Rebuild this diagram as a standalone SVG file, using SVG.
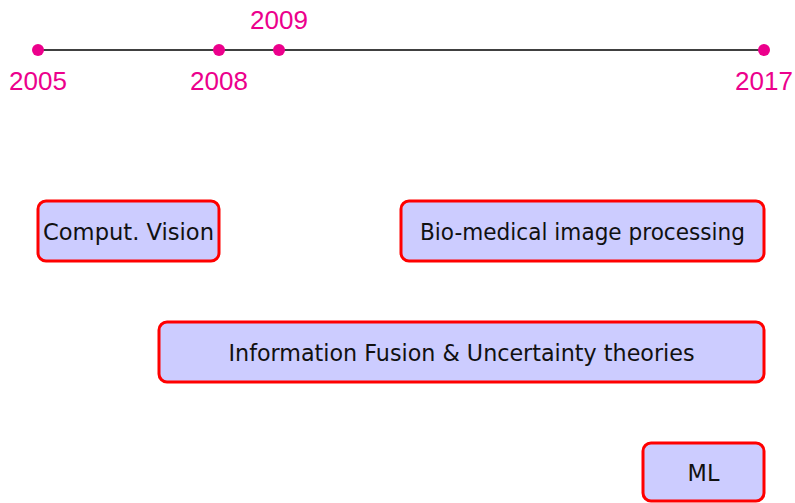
<svg xmlns="http://www.w3.org/2000/svg" width="795" height="503" viewBox="0 0 795 503">
<style>
.yr{font-family:"Liberation Sans",Arial,sans-serif;font-size:26px;fill:#ec008c;text-anchor:middle}
.dot{fill:#ec008c}
.box rect{fill:#ccccff;stroke:#ff0000;stroke-width:3}
.box text{font-family:"DejaVu Sans",sans-serif;font-size:22.4px;fill:#111;text-anchor:middle}
</style>
<rect width="795" height="503" fill="#ffffff"/>
<g id="connectors">
<line x1="38" y1="50" x2="764" y2="50" stroke="#000" stroke-width="1.4"/>
</g>
<g id="y2005"><circle class="dot" cx="38" cy="50" r="6"/><text class="yr" x="38" y="90">2005</text></g>
<g id="y2008"><circle class="dot" cx="219" cy="50" r="6"/><text class="yr" x="219" y="90">2008</text></g>
<g id="y2009"><circle class="dot" cx="279" cy="50" r="6"/><text class="yr" x="279" y="29">2009</text></g>
<g id="y2017"><circle class="dot" cx="764" cy="50" r="6"/><text class="yr" x="764" y="90">2017</text></g>
<g id="cv" class="box"><rect x="38" y="201" width="181" height="60" rx="8"/><text x="128.5" y="239.5" textLength="171" lengthAdjust="spacingAndGlyphs">Comput. Vision</text></g>
<g id="bio" class="box"><rect x="401" y="201" width="363" height="60" rx="8"/><text x="582.5" y="239.5" textLength="325" lengthAdjust="spacingAndGlyphs">Bio-medical image processing</text></g>
<g id="fusion" class="box"><rect x="159" y="322" width="605" height="60" rx="8"/><text x="461.5" y="360.5" textLength="466" lengthAdjust="spacingAndGlyphs">Information Fusion &amp; Uncertainty theories</text></g>
<g id="ml" class="box"><rect x="643" y="443" width="121" height="58" rx="8"/><text x="703.5" y="481">ML</text></g>
</svg>
